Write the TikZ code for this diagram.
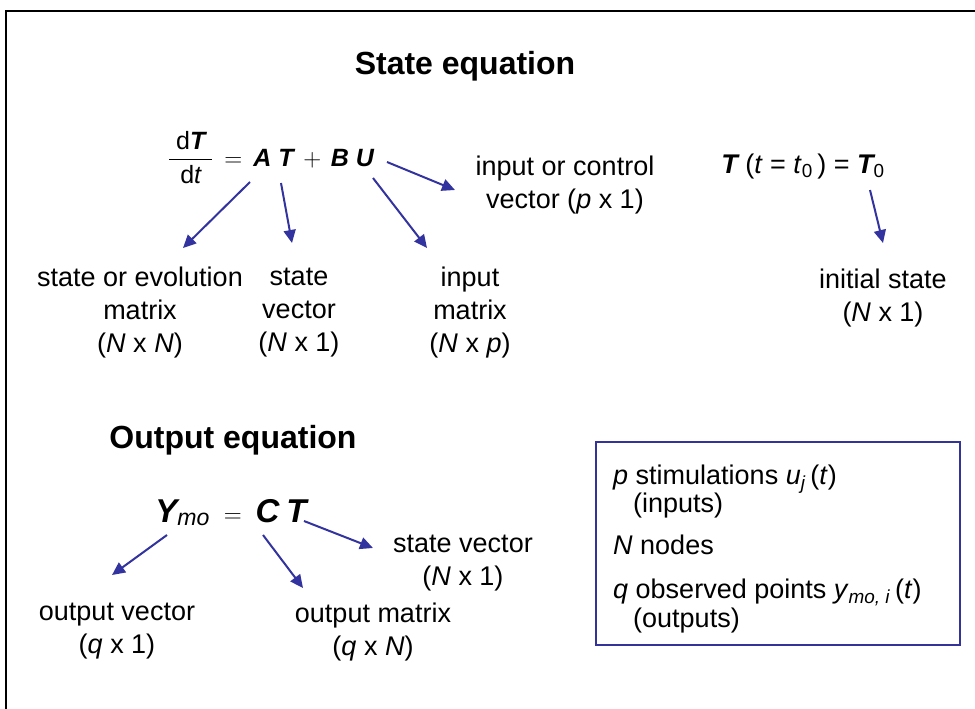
\documentclass[tikz,border=0pt]{standalone}
\usepackage{amsmath}
\usepackage{fontspec}
\setmainfont{Liberation Sans}
\usepackage{xcolor}
\usetikzlibrary{arrows.meta,positioning}
\definecolor{arrowblue}{RGB}{51,51,160}
\definecolor{boxblue}{RGB}{51,51,153}
\newcommand{\bv}[1]{\text{\bfseries\itshape #1}}
\newcommand{\iv}[1]{\textit{#1}}

\begin{document}
\begin{tikzpicture}[x=1pt,y=-1pt,
  lbl/.style={align=center,inner sep=0pt,font=\fontsize{27}{33}\selectfont},
  ttl/.style={inner sep=0pt,font=\fontsize{32}{38}\selectfont\bfseries},
  itm/.style={anchor=base west,inner sep=0pt,font=\fontsize{27}{33}\selectfont},
  arr/.style={-{Triangle[length=13pt,width=12pt]},line width=2pt,arrowblue}]
\useasboundingbox (0,0) rectangle (975,709);
% frame
\draw[line width=2.5pt] (6,709) -- (6,11) -- (975,11);
% state equation
\node[ttl] (stitle) at (465,66) {State equation};
\node[anchor=base,inner sep=0pt,font=\fontsize{25}{30}\selectfont] (steq) at (271,166)
  {$\dfrac{\;\text{d}\bv{T}\;}{\text{d}\text{\itshape t}} \,=\, \bv{A}\;\bv{T} \,+\, \bv{B}\;\bv{U}$};
\node[anchor=base,inner sep=0pt,font=\fontsize{27}{32}\selectfont] (init) at (803,173)
  {\bv{T} (\iv{t} = \iv{t}\textsubscript{0}\,) = \bv{T}\textsubscript{0}};
\node[lbl] (evo) at (140,313) {state or evolution\\matrix\\(\iv{N} x \iv{N})};
\node[lbl] (svec) at (299,313) {state\\vector\\(\iv{N} x 1)};
\node[lbl] (imat) at (470,313) {input\\matrix\\(\iv{N} x \iv{p})};
\node[lbl] (ivec) at (565,185) {input or control\\vector (\iv{p} x 1)};
\node[lbl] (istate) at (883,298) {initial state\\(\iv{N} x 1)};
% output equation
\node[ttl] (otitle) at (233,440) {Output equation};
\node[anchor=base,inner sep=0pt,font=\fontsize{33}{38}\selectfont] (outeq) at (231,522)
  {$\bv{Y}_{\text{\itshape mo}} \;=\; \bv{C}\;\bv{T}$};
\node[lbl] (ovec) at (117,631) {output vector\\(\iv{q} x 1)};
\node[lbl] (omat) at (373,632) {output matrix\\(\iv{q} x \iv{N})};
\node[lbl] (svec2) at (463,563) {state vector\\(\iv{N} x 1)};
% arrow ends
\coordinate (sA) at (250,182); \coordinate (eA) at (183,248);
\coordinate (sT) at (281,183); \coordinate (eT) at (292,243);
\coordinate (sB) at (373,178); \coordinate (eB) at (427,248);
\coordinate (sU) at (387,162); \coordinate (eU) at (455,190);
\coordinate (sI) at (870,190); \coordinate (eI) at (883,243);
\coordinate (sY) at (167,535); \coordinate (eY) at (112,575);
\coordinate (sC) at (263,535); \coordinate (eC) at (303,588);
\coordinate (sT2) at (304,521); \coordinate (eT2) at (373,548);
\foreach \s/\e in {sA/eA,sT/eT,sB/eB,sU/eU,sI/eI,sY/eY,sC/eC,sT2/eT2}
  \draw[arr] (\s) -- (\e);
% legend box
\draw[boxblue,line width=1.8pt] (596,442) rectangle (960,645);
\node[itm] (l1) at (613,484) {\iv{p} stimulations \iv{u}\textsubscript{\iv{j}}\,(\iv{t})};
\node[itm] (l2) at (633,512) {(inputs)};
\node[itm] (l3) at (613,554) {\iv{N} nodes};
\node[itm] (l4) at (613,598) {\iv{q} observed points \iv{y}\textsubscript{\iv{mo, i}}\,(\iv{t})};
\node[itm] (l5) at (633,627) {(outputs)};
\end{tikzpicture}
\end{document}
